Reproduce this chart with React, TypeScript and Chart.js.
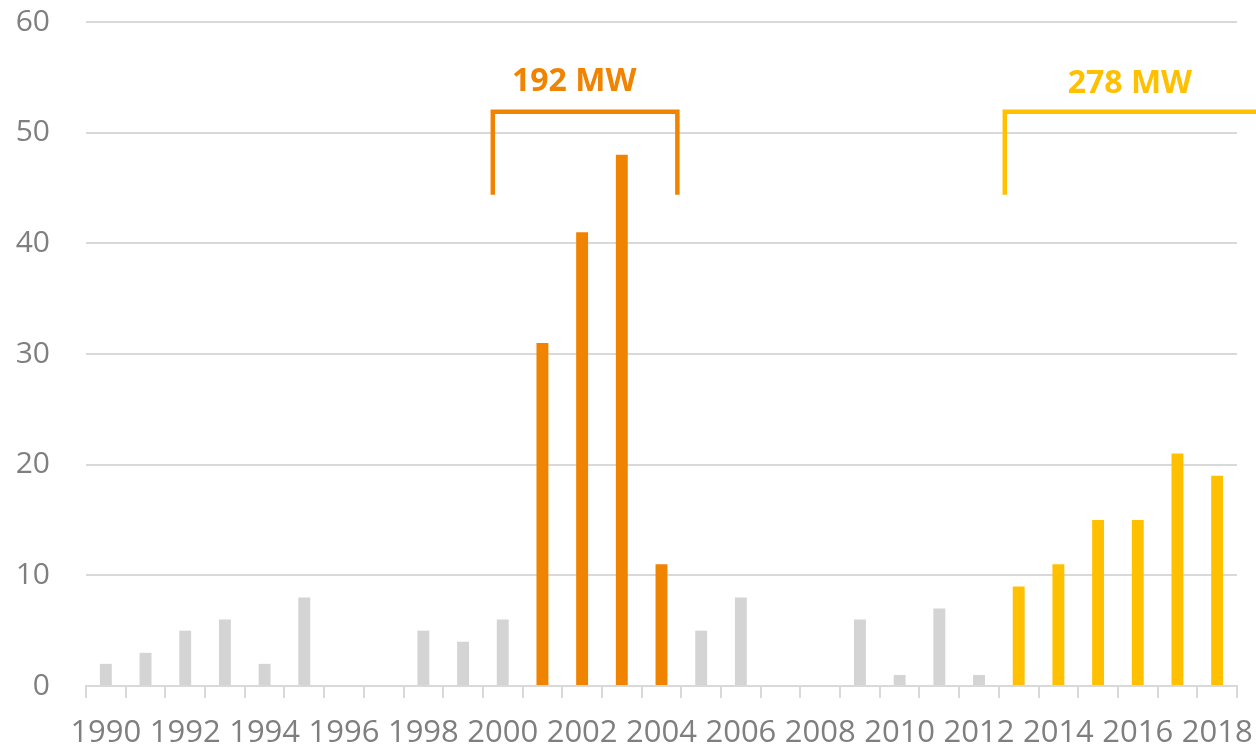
import React, { useEffect, useRef } from "react";
import { Chart, registerables } from "chart.js";

Chart.register(...registerables);

const years = [
  "1990", "1991", "1992", "1993", "1994", "1995", "1996", "1997", "1998", "1999",
  "2000", "2001", "2002", "2003", "2004", "2005", "2006", "2007", "2008", "2009",
  "2010", "2011", "2012", "2013", "2014", "2015", "2016", "2017", "2018",
];
const values = [2, 3, 5, 6, 2, 8, 0, 0, 5, 4, 6, 31, 41, 48, 11, 5, 8, 0, 0, 6, 1, 7, 1, 9, 11, 15, 15, 21, 19];
const orangeYears = ["2001", "2002", "2003", "2004"];
const yellowYears = ["2013", "2014", "2015", "2016", "2017", "2018"];
const bracketLabels = ["192 MW", "278 MW"];

const GRAY = "#D4D4D4";
const ORANGE = "#F08300";
const YELLOW = "#FFC000";
const TEXT = "#7F7F7F";
const FONT = "'Open Sans', 'Liberation Sans', sans-serif";

const barColors = years.map((y) =>
  orangeYears.includes(y) ? ORANGE : yellowYears.includes(y) ? YELLOW : GRAY
);

const brackets = [
  { x0: 9.75, x1: 14.4, top: 51.9, bottom: 44.4, color: ORANGE, label: bracketLabels[0], lx: 11.8, ly: 54.6, closed: true },
  { x0: 22.65, x1: 32, top: 51.9, bottom: 44.4, color: YELLOW, label: bracketLabels[1], lx: 25.8, ly: 54.4, closed: false },
];

const bracketPlugin = {
  id: "brackets",
  afterDraw(chart: any) {
    const ctx = chart.ctx;
    const xs = chart.scales.x;
    const ys = chart.scales.y;
    ctx.save();
    for (const b of brackets) {
      const x0 = xs.getPixelForValue(b.x0);
      const x1 = xs.getPixelForValue(b.x1);
      const yt = ys.getPixelForValue(b.top);
      const yb = ys.getPixelForValue(b.bottom);
      ctx.strokeStyle = b.color;
      ctx.lineWidth = 4.5;
      ctx.lineJoin = "miter";
      ctx.beginPath();
      ctx.moveTo(x0, yb);
      ctx.lineTo(x0, yt);
      ctx.lineTo(x1, yt);
      if (b.closed) ctx.lineTo(x1, yb);
      ctx.stroke();
      ctx.fillStyle = b.color;
      ctx.font = `bold 32px ${FONT}`;
      ctx.textAlign = "center";
      ctx.textBaseline = "middle";
      ctx.fillText(b.label, xs.getPixelForValue(b.lx), ys.getPixelForValue(b.ly));
    }
    ctx.restore();
  },
};

export default function App() {
  const ref = useRef<HTMLCanvasElement | null>(null);
  useEffect(() => {
    document.body.style.margin = "0";
    if (!ref.current) return;
    const chart = new Chart(ref.current, {
      type: "bar",
      data: {
        labels: years,
        datasets: [
          {
            data: values,
            backgroundColor: barColors,
            barPercentage: 0.3,
            categoryPercentage: 1,
          },
        ],
      },
      options: {
        animation: false,
        responsive: false,
        maintainAspectRatio: false,
        layout: { padding: { top: 0, right: 19, left: 0, bottom: 0 } },
        plugins: { legend: { display: false }, tooltip: { enabled: false } },
        scales: {
          x: {
            offset: true,
            afterFit: (s: any) => {
              s.paddingLeft = 0;
              s.paddingRight = 0;
              s.paddingTop = 0;
              s.paddingBottom = 0;
              s.height = 66;
            },
            grid: {
              offset: true,
              drawOnChartArea: false,
              drawTicks: true,
              tickLength: 12,
              color: "#D9D9D9",
              lineWidth: 2,
            },
            border: { color: "#D9D9D9", width: 2 },
            ticks: {
              autoSkip: false,
              maxRotation: 0,
              minRotation: 0,
              padding: 17,
              color: TEXT,
              font: { family: FONT, size: 31 },
              callback: (_v: any, i: number) => (i % 2 === 0 ? years[i] : ""),
            },
          },
          y: {
            min: 0,
            max: 60,
            afterFit: (s: any) => {
              s.width = 86;
              s.paddingTop = 22;
              s.paddingBottom = 0;
            },
            ticks: {
              stepSize: 10,
              padding: 36,
              color: TEXT,
              font: { family: FONT, size: 30 },
            },
            grid: { color: "#D9D9D9", lineWidth: 2, drawTicks: false },
            border: { display: false },
          },
        },
      },
      plugins: [bracketPlugin],
    });
    return () => chart.destroy();
  }, []);
  return (
    <div style={{ width: 1256, height: 752 }}>
      <canvas ref={ref} width={1256} height={752} style={{ display: "block" }} />
    </div>
  );
}
